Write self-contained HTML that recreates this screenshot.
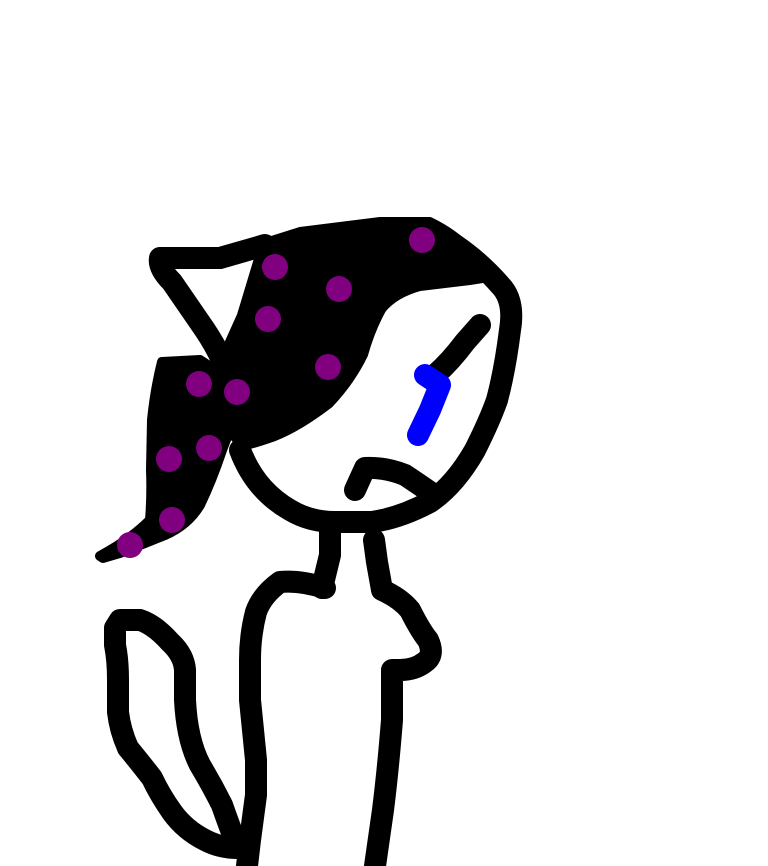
<!DOCTYPE html>
<html><head><meta charset="utf-8"><style>html,body{margin:0;padding:0;background:#fff}svg{display:block}</style></head>
<body>
<svg width="768" height="866" viewBox="0 0 768 866" xmlns="http://www.w3.org/2000/svg">
<g fill="none" stroke="#000" stroke-width="22" stroke-linecap="round" stroke-linejoin="round">
<!-- head -->
<path d="M240,450 Q255,490 290,510 Q310,522 335,522 L372,522 Q400,518 430,502 Q455,485 475,450 Q490,420 497,400 Q505,370 510,330 Q515,300 500,285 Q480,262 455,245"/>
<!-- ear -->
<path d="M265,245 L220,258 L160,258 Q158,268 172,282 Q190,308 205,330 Q215,345 222,360"/>
<!-- mouth -->
<path d="M355,490 L365,468 Q385,467 405,475 Q420,485 430,492"/>
<!-- neck -->
<path d="M330,532 L330,555 L322,588 L325,588 Q300,580 280,582 Q262,595 256,612 Q250,635 250,660 L250,700 Q253,730 256,760 L256,795 L250,840 L247,866"/>
<path d="M374,540 L377,562 L382,590 Q400,598 410,610 Q420,630 428,640 Q435,655 425,662 Q415,670 400,670 L392,670 L392,720 Q388,770 383,810 L378,845 L375,866"/>
<!-- tail -->
<path d="M120,620 L140,620 Q155,625 170,642 Q184,655 185,670 L185,700 Q187,740 200,765 Q212,785 222,805 Q230,828 238,848 Q220,848 205,840 Q185,830 172,812 Q160,795 152,778 Q138,760 128,748 Q120,730 118,712 L118,680 Q118,660 115,645 L115,628 Z"/>
<!-- eye line -->
<path d="M480,325 L465,342 Q450,362 435,375"/>
</g>
<path d="M425,375 L440,385 L430,410 L418,435" fill="none" stroke="#00f" stroke-width="22" stroke-linecap="round" stroke-linejoin="round"/>
<!-- hat fill -->
<path d="M262,242 L300,230 L380,220 L430,220 Q455,232 472,250 Q488,265 495,278 L470,282 L420,288 Q395,295 383,310 Q372,330 365,355 Q352,382 330,405 Q300,428 275,438 Q255,445 242,448 L228,432 L218,405 L222,375 L222,355 L240,315 Z" fill="#000" stroke="#000" stroke-width="6" stroke-linejoin="round"/>
<path d="M162,362 L200,360 Q225,375 240,398 Q232,425 222,450 Q212,480 200,505 Q188,525 165,535 Q140,545 120,553 L103,558 L100,556 Q130,540 150,520 Q152,495 151,470 L152,420 Q155,390 162,362 Z" fill="#000" stroke="#000" stroke-width="10" stroke-linejoin="round"/>
<g fill="#800080">
<circle cx="275" cy="267" r="13"/><circle cx="422" cy="240" r="13"/><circle cx="339" cy="289" r="13"/>
<circle cx="268" cy="319" r="13"/><circle cx="328" cy="367" r="13"/><circle cx="199" cy="384" r="13"/>
<circle cx="237" cy="392" r="13"/><circle cx="209" cy="448" r="13"/><circle cx="169" cy="459" r="13"/>
<circle cx="172" cy="520" r="13"/><circle cx="130" cy="545" r="13"/>
</g>
</svg>
</body></html>
